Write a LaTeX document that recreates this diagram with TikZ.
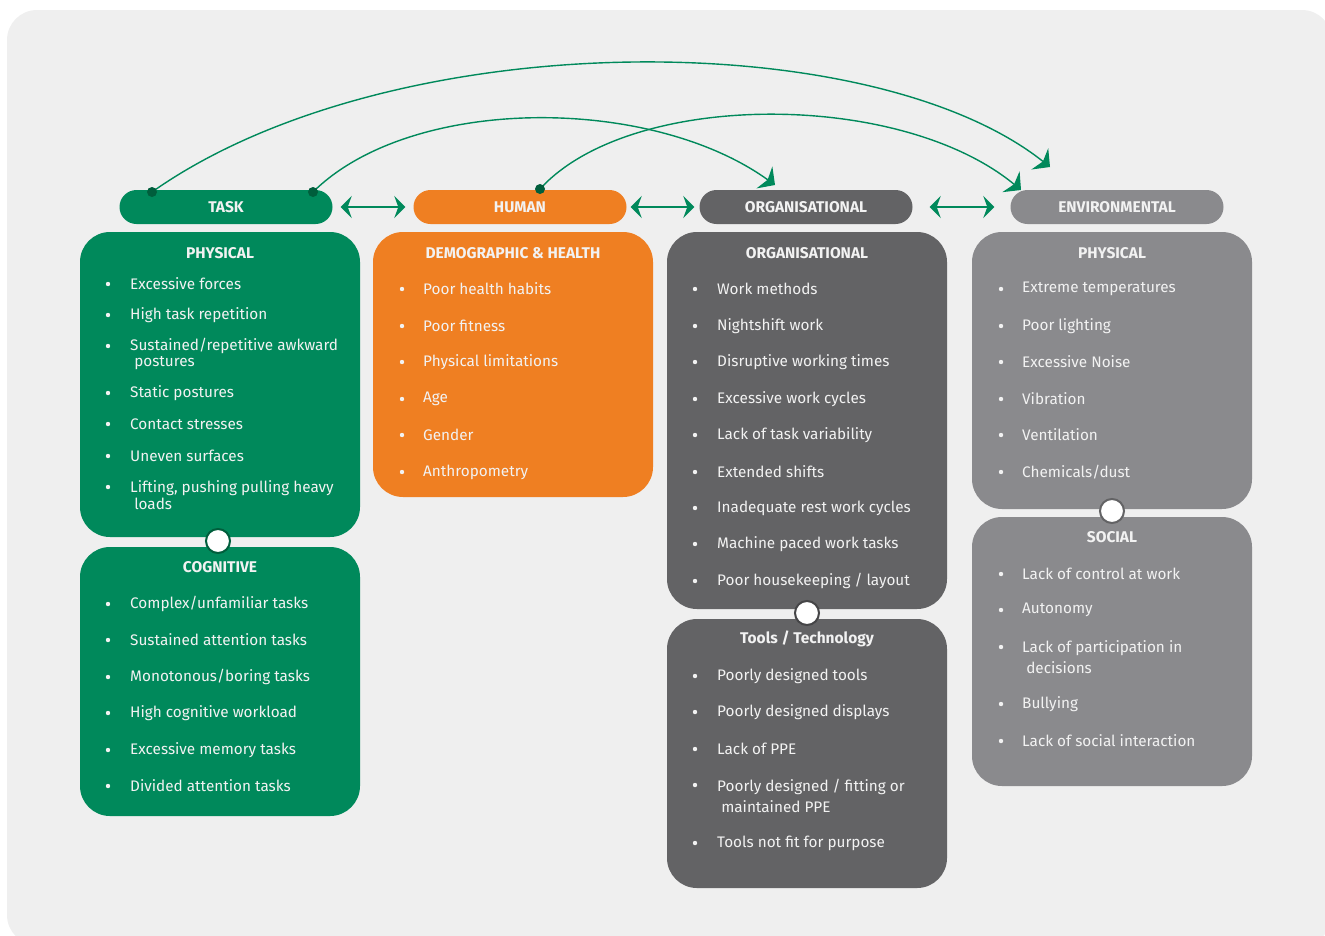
\documentclass[tikz,border=0pt]{standalone}
\usepackage{fontspec}
\setmainfont{Fira Sans}
\usetikzlibrary{arrows.meta}
\definecolor{tgreen}{HTML}{00895B}
\definecolor{horange}{HTML}{EF7F22}
\definecolor{odark}{HTML}{636365}
\definecolor{egray}{HTML}{8A8A8D}
\definecolor{bgpanel}{HTML}{EFEFEF}
\definecolor{dgreen}{HTML}{005E3C}
\definecolor{txt}{HTML}{F2F2F2}
\begin{document}
\begin{tikzpicture}[x=1pt,y=-1pt,
  pill/.style={rounded corners=17pt, minimum width=213pt, minimum height=34pt, inner sep=0pt, text=txt, font=\fontsize{15.5}{17}\selectfont\bfseries},
  panel/.style={rounded corners=30pt, minimum width=280pt, inner sep=0pt},
  ttl/.style={text=txt, font=\fontsize{15.5}{17}\selectfont\bfseries, inner sep=0pt},
  item/.style={text=txt, font=\fontsize{15.3}{16.5}\selectfont, anchor=west, align=left, inner sep=0pt},
  bul/.style={fill=txt},
  joint/.style={circle, fill=white, line width=2pt, minimum size=24pt, inner sep=0pt},
  dot/.style={circle, fill=dgreen, minimum size=10pt, inner sep=0pt},
  curve/.style={draw=tgreen, line width=1.4pt, -{Stealth[length=13pt,width=27pt,inset=4pt]}},
  dbl/.style={draw=tgreen, line width=1.6pt, {Stealth[length=11pt,width=22pt,inset=4pt]}-{Stealth[length=11pt,width=22pt,inset=4pt]}}
]
\useasboundingbox (0,0) rectangle (1325,935);
\begin{scope}
\clip (0,0) rectangle (1325,935);
\fill[bgpanel, rounded corners=30pt] (7,10) rectangle (1332,945);
\end{scope}

% header pills
\node[pill, fill=tgreen] (task) at (226,207) {TASK};
\node[pill, fill=horange] (human) at (520,207) {HUMAN};
\node[pill, fill=odark] (org) at (806,207) {ORGANISATIONAL};
\node[pill, fill=egray] (env) at (1117,207) {ENVIRONMENTAL};

% double arrows
\path (task.east) ++(8,0) coordinate (a1) (human.west) ++(-8,0) coordinate (a2);
\draw[dbl] (a1) -- (a2);
\path (human.east) ++(4,0) coordinate (b1) (org.west) ++(-5,0) coordinate (b2);
\draw[dbl] (b1) -- (b2);
\path (org.east) ++(17,0) coordinate (c1) (env.west) ++(-16,0) coordinate (c2);
\draw[dbl] (c1) -- (c2);

% panels
\node[panel, fill=tgreen, minimum height=305pt] (tphys) at (220,384.5) {};
\node[panel, fill=tgreen, minimum height=269pt] (tcog) at (220,681.5) {};
\node[panel, fill=horange, minimum height=265pt] (hdem) at (513,364.5) {};
\node[panel, fill=odark, minimum height=377pt] (oorg) at (807,420.5) {};
\node[panel, fill=odark, minimum height=269pt] (otool) at (807,753.5) {};
\node[panel, fill=egray, minimum height=277pt] (ephys) at (1112,370.5) {};
\node[panel, fill=egray, minimum height=269pt] (esoc) at (1112,651.5) {};

% joints
\node[joint, draw=dgreen] (j1) at (218,541) {};
\node[joint, draw=odark!70!black] (j2) at (807,613) {};
\node[joint, draw=odark] (j3) at (1112,511) {};

% titles
\node[ttl] (t1) at (220,253) {PHYSICAL};
\node[ttl] (t2) at (220,567) {COGNITIVE};
\node[ttl] (t3) at (513,253) {DEMOGRAPHIC \& HEALTH};
\node[ttl] (t4) at (807,253) {ORGANISATIONAL};
\node[ttl] (t5) at (807,639) {Tools / Technology};
\node[ttl] (t6) at (1112,253) {PHYSICAL};
\node[ttl] (t7) at (1112,537) {SOCIAL};

% task physical
\foreach \y/\b/\t [count=\i] in {284/284/{Excessive forces}, 315/315/{High task repetition}, 354/346/{Sustained/repetitive awkward\\\ postures}, 393/393/{Static postures}, 424/424/{Contact stresses}, 456/456/{Uneven surfaces}, 495/487/{Lifting, pushing pulling heavy\\\ loads}}{
  \fill[bul] (108,\b) circle (2.2);
  \node[item] (tp\i) at (130,\y) {\t};
}
% cognitive
\foreach \y/\t [count=\i] in {604/{Complex/unfamiliar tasks}, 640/{Sustained attention tasks}, 677/{Monotonous/boring tasks}, 713/{High cognitive workload}, 750/{Excessive memory tasks}, 786/{Divided attention tasks}}{
  \fill[bul] (108,\y) circle (2.2);
  \node[item] (tc\i) at (130,\y) {\t};
}
% human
\foreach \y/\t [count=\i] in {289/{Poor health habits}, 326/{Poor fitness}, 362/{Physical limitations}, 399/{Age}, 435/{Gender}, 472/{Anthropometry}}{
  \fill[bul] (402,\y) circle (2.2);
  \node[item] (hd\i) at (423,\y) {\t};
}
% organisational
\foreach \y/\t [count=\i] in {289/{Work methods}, 326/{Nightshift work}, 362/{Disruptive working times}, 399/{Excessive work cycles}, 435/{Lack of task variability}, 472/{Extended shifts}, 508/{Inadequate rest work cycles}, 544/{Machine paced work tasks}, 581/{Poor housekeeping / layout}}{
  \fill[bul] (695,\y) circle (2.2);
  \node[item] (oo\i) at (717,\y) {\t};
}
% tools
\foreach \y/\b/\t [count=\i] in {676/676/{Poorly designed tools}, 712/712/{Poorly designed displays}, 749/749/{Lack of PPE}, 796/785/{Poorly designed / fitting or\\[5pt]\ maintained PPE}, 843/843/{Tools not fit for purpose}}{
  \fill[bul] (695,\b) circle (2.2);
  \node[item] (ot\i) at (717,\y) {\t};
}
% env physical
\foreach \y/\t [count=\i] in {289/{Extreme temperatures}, 326/{Poor lighting}, 362/{Excessive Noise}, 399/{Vibration}, 435/{Ventilation}, 472/{Chemicals/dust}}{
  \fill[bul] (1001,\y) circle (2.2);
  \node[item] (ep\i) at (1022,\y) {\t};
}
% social
\foreach \y/\b/\t [count=\i] in {574/574/{Lack of control at work}, 610/610/{Autonomy}, 657/647/{Lack of participation in\\[4pt]\ decisions}, 704/704/{Bullying}, 741/741/{Lack of social interaction}}{
  \fill[bul] (1001,\b) circle (2.2);
  \node[item] (es\i) at (1022,\y) {\t};
}

% curved connectors
\coordinate (s1) at (152,192);
\coordinate (s2) at (313,192);
\coordinate (s3) at (540,189);
\coordinate (e1) at (1050,167);
\coordinate (e2) at (775,185);
\coordinate (e3) at (1021,190);
\draw[curve] (s1) .. controls (390,24) and (870,24) .. (e1);
\draw[curve] (s2) .. controls (411,95) and (650,95) .. (e2);
\draw[curve] (s3) .. controls (630,90) and (900,90) .. (e3);
\node[dot] (d1) at (s1) {};
\node[dot] (d2) at (s2) {};
\node[dot] (d3) at (s3) {};
\end{tikzpicture}
\end{document}
